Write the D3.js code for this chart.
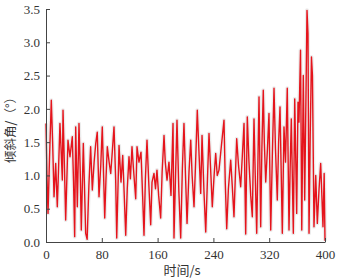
<!DOCTYPE html>
<html>
<head>
<meta charset="utf-8">
<script src="https://cdn.jsdelivr.net/npm/d3@7"></script>
<style>
  body { margin: 0; background: #fff; }
</style>
</head>
<body>
<div id="chart"></div>
<script>
// time (s) and tilt angle (deg)
const times = [0, 1.5, 2.9, 5, 7.6, 9.5, 11.5, 13.9, 16.2, 18, 20, 22, 23.4, 24.4, 26.5, 28.2, 31.5, 34.4, 37.7, 39.5,
  41.1, 42.6, 44.9, 47.3, 49, 50.6, 53.5, 55, 56.9, 59, 61.5, 64, 66.4, 69, 71.3, 73.5, 76, 78.5, 80.7, 84.2,
  86, 87.9, 90.5, 92.8, 95, 97.5, 99.9, 101.4, 104.7, 107.5, 110, 112, 114.3, 116.5, 119, 121, 123.3, 125.4, 128.6, 130.5,
  133.3, 136.2, 138.5, 140.5, 142.5, 144.8, 147.5, 150.1, 152, 154.8, 157, 159.1, 161.5, 164.4, 166.5, 169.2, 171, 173.5, 176.3, 179.2,
  182.1, 183.5, 185.5, 187.8, 190.5, 193.1, 195.5, 197.8, 200, 202.2, 205, 207.5, 209.5, 212.2, 214.5, 216.9, 219.5, 221.8, 223.7, 226.5,
  229, 231.5, 233.7, 236, 238.4, 241, 243.3, 245.5, 248, 251.5, 255.2, 257, 259.1, 261.5, 264.8, 267, 269.5, 271.5, 273.4, 276,
  279.1, 281.5, 283.9, 286.3, 288.6, 291, 293.5, 295.8, 298.2, 300, 302.1, 305.4, 307.8, 309.5, 311.5, 313, 315, 317.5, 319.7, 322.2,
  324.5, 326.9, 329, 331.6, 333.5, 335.5, 338.8, 341.2, 343.4, 345.9, 348.4, 350, 351.7, 354.6, 356.6, 359.4, 361.3, 362.7, 364.9, 366.7,
  368.9, 370.9, 374.2, 375.6, 377.1, 378.8, 380.6, 382, 384.2, 386.7, 389, 391.5, 393.8, 395.5, 397.1, 398.8, 400];
const angles = [1.78, 0.95, 0.43, 1.25, 2.13, 1.5, 0.68, 1.18, 0.53, 1.1, 1.78, 1.3, 0.93, 1.98, 1.1, 0.33, 1.53, 1.28, 1.58, 0.9,
  0.08, 1.73, 0.53, 1.78, 1.1, 0.18, 1.48, 0.9, 0.13, 0.04, 0.85, 1.43, 0.78, 1.2, 1.48, 1.65, 0.68, 1.15, 1.73, 0.36,
  0.95, 1.43, 1.2, 1.03, 1.35, 1.73, 0.93, 0.06, 1.45, 0.9, 1.3, 0.75, 0.1, 0.8, 1.28, 0.95, 1.43, 1.1, 0.65, 1.43,
  1.2, 1.35, 0.7, 0.1, 0.95, 1.53, 0.85, 0.26, 0.9, 1.03, 0.8, 1.08, 0.7, 0.36, 1.05, 1.6, 1.2, 0.93, 1.2, 0.7,
  1.78, 0.06, 0.9, 1.83, 0.75, 0.06, 1.1, 1.78, 1.0, 0.28, 1.05, 1.53, 1.0, 0.53, 1.2, 1.98, 1.3, 0.73, 1.6, 0.75,
  0.15, 0.95, 1.63, 1.1, 0.53, 1.0, 1.33, 1.0, 1.08, 1.45, 1.83, 0.9, 0.2, 0.8, 1.23, 0.85, 0.38, 1.0, 1.55, 1.15,
  0.83, 1.3, 1.78, 0.12, 1.88, 1.2, 0.7, 0.38, 1.85, 1.0, 0.13, 2.18, 0.23, 1.4, 2.28, 1.5, 0.9, 1.4, 1.93, 0.18,
  1.3, 2.31, 1.4, 0.63, 1.5, 2.03, 0.13, 1.73, 1.2, 2.31, 0.18, 1.1, 1.85, 0.13, 2.15, 0.43, 2.1, 1.8, 2.88, 0.18,
  2.5, 0.63, 3.48, 3.13, 0.13, 1.6, 2.78, 2.5, 0.23, 1.0, 0.28, 0.8, 1.18, 0.7, 0.23, 1.03, 0.02];
const xTicks = [0, 80, 160, 240, 320, 400];
const yTicks = [0, 0.5, 1.0, 1.5, 2.0, 2.5, 3.0, 3.5];

const data = times.map((t, i) => ({t: t, v: angles[i]}));

const W = 337, H = 279;
const margin = {top: 9, right: 12, bottom: 37, left: 46};
const width = W - margin.left - margin.right;
const height = H - margin.top - margin.bottom;

const svg = d3.select("#chart").append("svg")
  .attr("width", W)
  .attr("height", H)
  .append("g")
  .attr("transform", `translate(${margin.left},${margin.top})`);

const x = d3.scaleLinear([0, 400], [0, width]);
const y = d3.scaleLinear([0, 3.5], [height, 0]);

const line = d3.line().x(d => x(d.t)).y(d => y(d.v));

// faint grey halo under the line (as in the scan)
svg.append("path")
  .datum(data)
  .attr("fill", "none")
  .attr("stroke", "#ececec")
  .attr("stroke-width", 4)
  .attr("stroke-linejoin", "round")
  .attr("d", line);

svg.append("path")
  .datum(data)
  .attr("fill", "none")
  .attr("stroke", "#e5141c")
  .attr("stroke-width", 1.4)
  .attr("stroke-linejoin", "round")
  .attr("d", line);

// axes, ticks pointing inward
const xAxis = svg.append("g")
  .attr("transform", `translate(0,${height})`)
  .call(d3.axisBottom(x).tickValues(xTicks).tickSize(-4).tickPadding(8).tickSizeOuter(0));
const yAxis = svg.append("g")
  .call(d3.axisLeft(y).tickValues(yTicks).tickFormat(d3.format(".1f")).tickSize(-4).tickPadding(6).tickSizeOuter(0));

[xAxis, yAxis].forEach(a => {
  a.attr("font-family", "'Times New Roman', 'Liberation Serif', 'DejaVu Serif', serif").attr("font-size", 13);
  a.select(".domain").attr("stroke", "#444").attr("stroke-width", 1);
  a.selectAll(".tick line").attr("stroke", "#444");
  a.selectAll(".tick text").attr("fill", "#333");
});

svg.append("text")
  .attr("x", 136)
  .attr("y", height + 33)
  .attr("text-anchor", "middle")
  .attr("font-family", "'Noto Sans CJK SC', sans-serif")
  .attr("font-size", 13)
  .attr("fill", "#333")
  .text("时间/s");

svg.append("text")
  .attr("transform", `translate(${-31},${118}) rotate(-90)`)
  .attr("text-anchor", "middle")
  .attr("font-family", "'Noto Sans CJK SC', sans-serif")
  .attr("font-size", 12.5)
  .attr("fill", "#333")
  .text("倾斜角/（°）");
</script>
</body>
</html>
